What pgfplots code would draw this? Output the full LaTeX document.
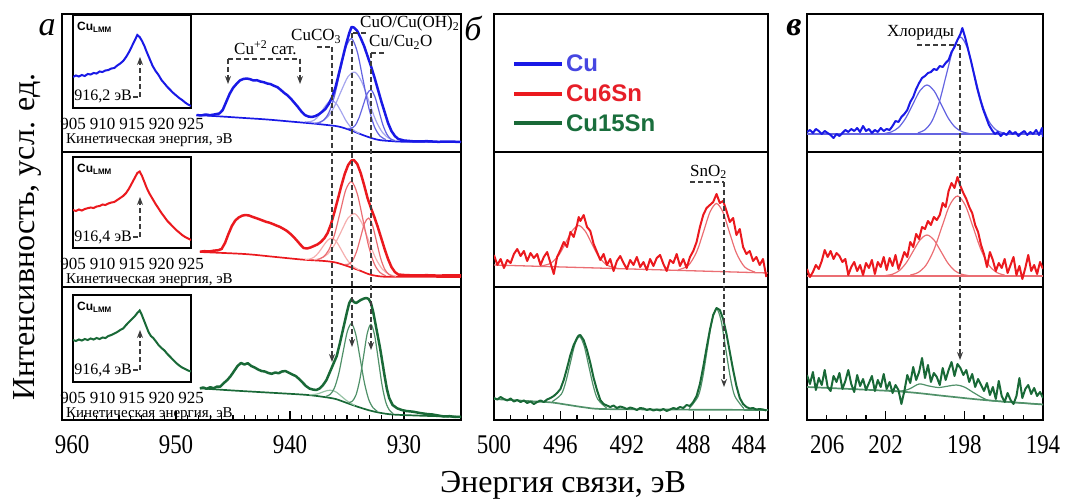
\documentclass[border=0pt]{standalone}
\usepackage{pgfplots}
\pgfplotsset{compat=1.18}
\usepackage{fontspec}
\setmainfont{Liberation Serif}
\newfontfamily\sansf{Liberation Sans}
\newfontfamily\tickf[FakeStretch=0.85]{Liberation Serif}
\usetikzlibrary{arrows.meta}
\definecolor{bM}{RGB}{25,25,230}
\definecolor{bC1}{RGB}{100,100,225}
\definecolor{bC2}{RGB}{165,165,238}
\definecolor{rM}{RGB}{235,25,30}
\definecolor{rC1}{RGB}{235,110,115}
\definecolor{rC2}{RGB}{245,175,175}
\definecolor{gM}{RGB}{25,105,55}
\definecolor{gC1}{RGB}{80,145,105}
\definecolor{gC2}{RGB}{150,195,165}
\definecolor{ann}{RGB}{60,60,60}
\definecolor{legB}{RGB}{70,70,225}
\definecolor{legR}{RGB}{230,30,40}
\definecolor{legG}{RGB}{25,110,60}
\pgfplotsset{
  panel/.style={scale only axis, axis line style={line width=1.6pt, black}, xtick=\empty, ytick=\empty, ymin=0, x dir=reverse, anchor=north west},
  botticks/.style={tick align=inside, xtick pos=bottom, major tick length=9pt, minor tick length=5pt, tick style={line width=1.1pt, black}, xticklabel style={font=\tickf\fontsize{27}{27}\selectfont, yshift=-12pt}},
  inset/.style={scale only axis, anchor=north west, width=118pt, xmin=905, xmax=925, ymin=0, axis line style={line width=1.2pt, black}, ytick=\empty, xtick={905,910,915,920,925}, xticklabels={905,910,915,920,925}, xtick pos=bottom, major tick length=0pt, xticklabel style={font=\fontsize{17}{17}\selectfont, yshift=-7pt}, axis background/.style={fill=white}},
  mainl/.style={line width=2.5pt, line join=round},
  bgl/.style={line width=1.7pt, smooth},
  compl/.style={line width=1.2pt, smooth},
  noisy/.style={line width=2pt, line join=round},
}
\tikzset{dsh/.style={ann, line width=1.2pt, dash pattern=on 5pt off 3pt}, arr/.style={-{Stealth[length=8pt,width=6pt]}}}
\begin{document}
\begin{tikzpicture}[x=1pt,y=1pt]
\path[use as bounding box] (0,0) rectangle (1068,-500);
% ================= PANEL A =================
% --- top row (Cu)
\begin{axis}[panel, at={(62pt,-14pt)}, width=399pt, height=138pt, xmin=925, xmax=960, ymax=138]
\addplot[bgl, bM] coordinates {(948.2,37) (946,35.5) (944,34) (942,32.5) (940,30.5) (938,28.5) (937,27.3) (936,26) (935.5,24.8) (935,23) (934.5,21) (934,18.7) (933.5,16.5) (933,14.5) (932.5,12.8) (932,11.7) (931,10.8) (930,10.3) (925,10)};
\addplot[compl, bC2] coordinates {(937.9,29) (937.3,30.2) (936.7,35) (936.1,45.6) (935.5,61.2) (934.9,75.5) (934.3,79.8) (933.7,70) (933.1,51.3) (932.5,32.3) (931.9,19.7) (931.3,13.6) (930.7,11.3)};
\addplot[compl, bC2] coordinates {(938.7,30.2) (938.3,30.2) (937.9,31.7) (937.5,35.9) (937.1,42.7) (936.7,48.9) (936.3,51.4) (935.9,47.8) (935.5,40.1) (935.1,31.5) (934.7,25.2) (934.3,20.9) (933.9,18.5)};
\addplot[compl, bC1] coordinates {(937.6,28.7) (937.1,31.4) (936.6,39.1) (936.1,56.0) (935.6,80.8) (935.1,104.5) (934.6,113.4) (934.1,100.3) (933.6,72.7) (933.1,44.8) (932.6,25.5) (932.1,15.9) (931.6,12.5)};
\addplot[compl, bC1] coordinates {(935.0,23.5) (934.65,23.7) (934.3,26.3) (933.95,34.1) (933.6,46.0) (933.25,57.8) (932.9,62.1) (932.55,55.3) (932.2,41.2) (931.85,27.1) (931.5,17.7) (931.15,12.9) (930.8,11.2)};
\addplot[mainl, bM] coordinates {(948.2,37) (947.8,36.5) (947.4,37.5) (947.0,36.8) (946.6,37.6) (946.2,38.5) (945.9,42) (945.6,50) (945.3,58) (945.0,64) (944.7,68) (944.4,71.5) (944.1,73) (943.8,73.5) (943.5,72.8) (943.2,71.5) (942.9,71.8) (942.6,70.5) (942.3,69.8) (942.0,68.5) (941.7,67.9) (941.4,66.2) (941.1,64.8) (940.8,62) (940.5,59) (940.2,56.5) (939.9,53) (939.6,49) (939.3,45) (939.0,40.5) (938.7,37) (938.4,35.5) (938.1,35) (937.8,35.8) (937.5,37.5) (937.2,40) (936.9,43) (936.6,48) (936.3,55) (936.0,65) (935.7,79) (935.4,93) (935.1,107) (934.8,119) (934.6,125) (934.4,124.5) (934.1,121) (933.8,114) (933.5,106) (933.2,96) (932.9,86) (932.6,75) (932.3,63) (932.0,51) (931.7,40) (931.4,29) (931.1,21) (930.8,16) (930.5,13) (930.0,11.5) (929.5,11) (929.0,10.5) (928.0,10.8) (927.0,10.2) (926.0,10.5) (925.0,10)};
\end{axis}
\begin{axis}[inset, at={(73pt,-15pt)}, height=93pt, ymax=93]
\addplot[line width=2pt, bM] coordinates {(905.0,31) (905.5,32.5) (906.0,31.5) (906.5,33) (907.0,32) (907.5,34) (908.0,33.5) (908.5,35) (909.0,34.5) (909.5,36.5) (910.0,36) (910.5,37.5) (911.0,38) (911.5,39.5) (912.0,40) (912.5,42.5) (913.0,44.5) (913.5,47) (914.0,51) (914.5,56) (915.0,62) (915.5,68) (915.9,73) (916.3,71) (916.7,67) (917.1,62) (917.5,56) (918.0,49) (918.5,42) (919.0,37) (919.5,33) (920.0,28) (920.5,24.5) (921.0,21) (921.5,18) (922.0,15) (922.5,12.5) (923.0,10) (923.5,8) (924.0,5.5) (924.5,3.5) (925.0,2)};
\end{axis}
% --- middle row (Cu6Sn)
\begin{axis}[panel, at={(62pt,-152pt)}, width=399pt, height=135pt, xmin=925, xmax=960, ymax=135]
\addplot[bgl, rM] coordinates {(947.9,35) (944,33) (941.5,30.3) (939,27.5) (937,26) (936,24.5) (935,21) (934,17) (933,12.5) (932,10.5) (931,10.3) (925,10)};
\addplot[compl, rC2] coordinates {(937.9,27.2) (937.3,28.7) (936.7,32.9) (936.1,42.1) (935.5,55.7) (934.9,69.1) (934.3,73.2) (933.7,64.1) (933.1,46.3) (932.5,29.1) (931.9,17.9) (931.3,12.7) (930.7,10.8)};
\addplot[compl, rC2] coordinates {(938.7,27.5) (938.3,27.9) (937.9,29.8) (937.5,34.2) (937.1,40.7) (936.7,46.7) (936.3,48.9) (935.9,44.9) (935.5,37.2) (935.1,29.2) (934.7,23.0) (934.3,19.3) (933.9,16.9)};
\addplot[compl, rC1] coordinates {(937.6,27.3) (937.1,29.9) (936.6,36.9) (936.1,52.2) (935.6,74.8) (935.1,97.3) (934.6,105.4) (934.1,93.3) (933.6,67.4) (933.1,40.9) (932.6,23) (932.1,14.4) (931.6,11.3)};
\addplot[compl, rC1] coordinates {(935.2,22.4) (934.85,22.9) (934.5,26.6) (934.15,35.8) (933.8,50) (933.45,63.9) (933.1,68.9) (932.75,61.2) (932.4,45.1) (932.05,28.8) (931.7,18) (931.35,12.8) (931.0,10.9)};
\addplot[mainl, rM] coordinates {(947.9,35.3) (947.5,35.8) (947.1,35.5) (946.7,36.3) (946.3,36.8) (946.0,38) (945.7,44) (945.4,53) (945.1,61) (944.8,66.5) (944.5,69.5) (944.2,71.3) (943.9,72) (943.6,71.5) (943.3,70.2) (943.0,69) (942.7,67.8) (942.4,66.5) (942.1,65.2) (941.8,64.3) (941.5,63) (941.2,61.5) (940.9,60.2) (940.6,58.3) (940.3,56.3) (940.0,53.5) (939.7,50.3) (939.4,46.5) (939.1,42.5) (938.8,39) (938.5,38.5) (938.2,39.5) (937.9,41) (937.6,42.5) (937.3,45) (937.0,48.5) (936.7,54) (936.4,63) (936.1,75) (935.8,88) (935.5,101) (935.2,113) (934.9,122) (934.6,126.5) (934.4,127) (934.1,123) (933.8,114) (933.5,102) (933.2,89) (932.9,79) (932.6,70) (932.3,60) (932.0,49) (931.7,38) (931.4,28) (931.1,20) (930.8,15) (930.5,12.5) (930.0,12) (929.0,11.5) (928.0,11.8) (927.0,11.4) (926.0,11.7) (925.0,11.5)};
\end{axis}
\begin{axis}[inset, at={(73pt,-157pt)}, height=91pt, ymax=91]
\addplot[line width=2pt, rM] coordinates {(905.0,38) (905.5,37) (906.0,38.5) (906.5,37.5) (907.0,39) (907.5,39.8) (908.0,40.5) (908.5,40) (909.0,41.5) (909.5,42) (910.0,43.5) (910.5,43) (911.0,44.5) (911.5,45.5) (912.0,46) (912.5,48) (913.0,50) (913.5,52) (914.0,55) (914.5,59.5) (915.0,65) (915.5,70.5) (915.9,75) (916.3,76.5) (916.7,72) (917.1,66) (917.5,60) (918.0,54) (918.5,49) (919.0,44) (919.5,39.5) (920.0,35) (920.5,31) (921.0,27) (921.5,24) (922.0,21) (922.5,18) (923.0,15.5) (923.5,13) (924.0,11) (924.5,9.5) (925.0,8)};
\end{axis}
% --- bottom row (Cu15Sn)
\begin{axis}[panel, botticks, at={(62pt,-287pt)}, width=399pt, height=133pt, xmin=925, xmax=960, ymax=133, xtick={930,940,950,960}, xticklabels={930,940,950,\rlap{\hspace{-7pt}960}}, minor x tick num=9]
\addplot[bgl, gM] coordinates {(947.9,31.7) (945,29.5) (942,27.5) (939,25.5) (938,24.5) (937,23) (936,21) (935,17) (934,13) (933,9.5) (932,7) (931,5.5) (929,4.5) (927,3.8) (925,3.3)};
\addplot[compl, gC2] coordinates {(938.3,25.2) (937.9,25.5) (937.5,26.4) (937.1,28.1) (936.7,29.5) (936.3,29.6) (935.9,27.6) (935.5,23.8) (935.1,20) (934.7,16.9) (934.3,14.6)};
\addplot[compl, gC1] coordinates {(936.85,23.6) (936.475,25.6) (936.1,32.1) (935.725,46.3) (935.35,67.6) (934.975,88.3) (934.6,96.4) (934.225,85.3) (933.85,61.6) (933.475,37.4) (933.1,20.7) (932.725,12.4) (932.35,8.8)};
\addplot[compl, gC1] coordinates {(934.85,17.3) (934.525,18.9) (934.2,25.4) (933.875,40.5) (933.55,63.5) (933.225,86.5) (932.9,95.6) (932.575,84.6) (932.25,60.1) (931.925,34.9) (931.6,17.9) (931.275,9.7) (930.95,6.4)};
\addplot[mainl, gM] coordinates {(947.9,31.7) (947.6,32.5) (947.3,31.2) (947.0,32.8) (946.7,31.8) (946.4,33.4) (946.1,33.5) (945.8,37) (945.5,40) (945.2,44) (944.9,49) (944.6,54) (944.3,57) (944.0,55.5) (943.7,56.8) (943.4,54) (943.1,52.5) (942.8,50.5) (942.5,49) (942.2,48.5) (941.9,47) (941.6,46.2) (941.3,47.5) (941.0,46.8) (940.7,48.5) (940.4,49) (940.1,47.3) (939.8,45.5) (939.5,44) (939.2,41) (938.9,37.5) (938.6,34) (938.3,31.5) (938.0,30.5) (937.7,30) (937.4,31.5) (937.1,35) (936.8,40) (936.5,48) (936.2,56) (935.9,64) (935.6,78) (935.3,93) (935.0,108) (934.8,117) (934.6,121) (934.4,118) (934.2,117) (934.0,118.5) (933.8,120) (933.5,121.5) (933.3,122) (933.1,121) (932.9,117) (932.7,108) (932.5,96) (932.3,84) (932.1,72) (931.9,58) (931.7,44) (931.5,31) (931.3,22) (931.0,15) (930.6,11.7) (930.2,10) (929.8,9) (929.2,8.3) (928.6,7) (928.0,6) (927.5,5.5) (927.0,4.5) (926.5,3.5) (926.0,3.8) (925.5,3) (925.0,3.2)};
\end{axis}
\begin{axis}[inset, at={(73pt,-295pt)}, height=87pt, ymax=87]
\addplot[line width=2pt, gM] coordinates {(905.0,42) (905.5,41) (906.0,42.5) (906.5,41.5) (907.0,43) (907.5,42) (908.0,43.5) (908.5,42.5) (909.0,44) (909.5,43) (910.0,44.5) (910.5,44) (911.0,46) (911.5,47) (912.0,48.5) (912.5,50) (913.0,52) (913.5,53.5) (914.0,57) (914.5,60) (915.0,63) (915.5,66) (915.9,69) (916.3,71.5) (916.6,68) (917.0,62) (917.4,56) (917.8,50) (918.2,46) (918.6,44) (919.0,41) (919.5,37) (920.0,34) (920.5,31.5) (921.0,28) (921.5,25) (922.0,22) (922.5,19) (923.0,16.5) (923.5,14.5) (924.0,13) (924.5,11.5) (925.0,10.5)};
\end{axis}
% ================= PANEL B =================
\begin{axis}[panel, at={(494pt,-14pt)}, width=274pt, height=138pt, xmin=483.5, xmax=500, ymax=138,
  legend style={draw=none, fill=none, at={(0.065,0.72)}, anchor=north west, font=\sansf\bfseries\fontsize{24}{24}\selectfont, row sep=7.5pt, inner sep=0pt},
  legend cell align=left,
  legend image code/.code={\draw[#1] (0pt,0pt) -- (48pt,0pt);}]
\addlegendimage{line width=4pt, bM}
\addlegendentry{\textcolor{legB}{Cu}}
\addlegendimage{line width=4pt, rM}
\addlegendentry{\textcolor{legR}{Cu6Sn}}
\addlegendimage{line width=4pt, gM}
\addlegendentry{\textcolor{legG}{Cu15Sn}}
\end{axis}
\begin{axis}[panel, at={(494pt,-152pt)}, width=274pt, height=135pt, xmin=483.5, xmax=500, ymax=135]
\addplot[line width=1.3pt, rC1] coordinates {(500,22) (483.5,14)};
\addplot[compl, rC1] coordinates {(497.2,21) (496.6,23.6) (496.1,31.8) (495.7,43.7) (495.3,56.1) (494.9,61.5) (494.5,55.7) (494.1,42.9) (493.7,30.6) (493.2,21.9) (492.6,18.8)};
\addplot[compl, rC1] coordinates {(488.9,17.2) (488.3,21.5) (487.8,35) (487.4,54.4) (487.0,74.7) (486.6,83.5) (486.2,74.3) (485.8,53.6) (485.4,33.8) (484.9,19.9) (484.3,15)};
\addplot[noisy, rM] coordinates {(500.0,32) (499.8,22) (499.6,28) (499.4,19) (499.2,27) (499.0,24) (498.8,33) (498.6,38) (498.4,31) (498.2,36) (498.0,26) (497.8,34) (497.6,29) (497.4,33) (497.2,22) (497.0,30) (496.8,35) (496.6,24) (496.4,13) (496.2,30) (496.0,37) (495.8,45) (495.6,40) (495.4,55) (495.2,50) (495.0,62) (494.9,70) (494.8,66) (494.6,72) (494.4,60) (494.2,56) (494.0,43) (493.8,35) (493.6,27) (493.4,33) (493.2,22) (493.0,28) (492.8,16) (492.6,26) (492.4,31) (492.2,24) (492.0,18) (491.8,27) (491.6,22) (491.4,30) (491.2,20) (491.0,25) (490.8,17) (490.6,28) (490.4,21) (490.2,29) (490.0,32) (489.8,23) (489.6,16) (489.4,27) (489.2,24) (489.0,33) (488.8,21) (488.6,28) (488.4,19) (488.2,30) (488.0,36) (487.8,45) (487.6,60) (487.4,72) (487.2,79) (487.0,82) (486.8,85) (486.6,93) (486.4,84) (486.2,86) (486.0,76) (485.8,65) (485.6,69) (485.4,52) (485.2,58) (485.0,40) (484.8,33) (484.6,36) (484.4,26) (484.2,30) (484.0,22) (483.8,28) (483.6,10)};
\end{axis}
\begin{axis}[panel, botticks, at={(494pt,-287pt)}, width=274pt, height=133pt, xmin=483.5, xmax=500, ymax=133, xtick={484,488,492,496,500}, xticklabels={\rlap{\hspace{-28pt}484},488,492,496,500}, minor x tick num=3]
\addplot[bgl, gC1] coordinates {(500,21) (497.5,18.5) (496.5,17.5) (495.5,15) (494.5,12.5) (493.5,11) (490,10.5) (483.5,10)};
\addplot[compl, gC1] coordinates {(496.5,18.3) (495.95,25.7) (495.675,38.3) (495.4,57.3) (495.125,75.9) (494.85,83.4) (494.575,74.4) (494.3,54.5) (494.025,34.3) (493.75,20.7) (493.2,11.7)};
\addplot[compl, gC1] coordinates {(488.25,11.4) (487.7,24) (487.425,43.1) (487.15,71.6) (486.875,99.4) (486.6,111.3) (486.325,99.4) (486.05,71.6) (485.775,43.1) (485.5,24) (484.95,11.4)};
\addplot[noisy, gM] coordinates {(500.0,22) (499.8,20.5) (499.6,23) (499.4,21) (499.2,19.5) (499.0,21.5) (498.8,18.5) (498.6,20) (498.4,18) (498.2,19.5) (498.0,17) (497.8,18.5) (497.6,16) (497.4,18) (497.2,19.5) (497.0,18) (496.8,20.5) (496.6,22) (496.4,24) (496.2,27) (496.0,31) (495.8,40) (495.6,52) (495.4,65) (495.2,75) (495.0,82) (494.9,84.5) (494.8,85) (494.6,80) (494.4,70) (494.2,57) (494.0,42) (493.8,30) (493.6,20) (493.4,16) (493.2,14.5) (493.0,13) (492.8,14.5) (492.6,12) (492.4,13.5) (492.2,12.5) (492.0,11) (491.8,12.5) (491.6,11.5) (491.4,10) (491.2,12) (491.0,11.5) (490.8,10) (490.6,11) (490.4,9.5) (490.2,10.5) (490.0,9.5) (489.8,11) (489.6,9) (489.4,10.5) (489.2,12) (489.0,11) (488.8,13) (488.6,12) (488.4,15) (488.2,14) (488.0,18) (487.8,24) (487.6,36) (487.4,53) (487.2,72) (487.0,90) (486.8,105) (486.6,112) (486.4,110) (486.2,101) (486.0,86) (485.8,68) (485.6,50) (485.4,34) (485.2,22) (485.0,16) (484.8,13) (484.6,11.5) (484.4,12) (484.2,10.5) (484.0,11) (483.8,10.5) (483.6,9.5)};
\end{axis}
% ================= PANEL C =================
\begin{axis}[panel, at={(807pt,-14pt)}, width=236pt, height=138pt, xmin=194, xmax=206, ymax=138]
\addplot[line width=1.3pt, bC1] coordinates {(206,18) (194,18)};
\addplot[compl, bC1] coordinates {(202.06,18.5) (201.7,20.2) (201.34,24.6) (200.98,33.9) (200.62,47.7) (200.26,61.2) (199.9,67) (199.54,61.2) (199.18,47.7) (198.82,33.9) (198.46,24.6) (198.1,20.2) (197.74,18.5)};
\addplot[compl, bC1] coordinates {(200.36,19.1) (200.0,22.3) (199.64,31.1) (199.28,49.5) (198.92,76.9) (198.56,103.6) (198.2,115) (197.84,103.6) (197.48,76.9) (197.12,49.5) (196.76,31.1) (196.4,22.3) (196.04,19.1)};
\addplot[noisy, bM] coordinates {(206.00,20) (205.85,22) (205.70,19) (205.55,23) (205.40,21) (205.25,18) (205.10,21) (204.95,19) (204.80,17) (204.65,14) (204.50,18) (204.35,16) (204.20,19) (204.05,22) (203.90,20) (203.75,23) (203.60,21) (203.45,24) (203.30,20) (203.15,26) (203.00,21) (202.85,23) (202.70,19) (202.55,22) (202.40,20) (202.25,24) (202.10,21) (201.95,23) (201.80,22) (201.65,26) (201.50,31) (201.35,30) (201.20,35) (201.05,38) (200.90,42) (200.75,50) (200.60,55) (200.45,63) (200.30,69) (200.15,74) (200.00,76) (199.85,79) (199.70,80) (199.55,83) (199.40,82) (199.25,86) (199.10,85) (198.95,89) (198.80,92) (198.65,100) (198.50,105) (198.35,112) (198.20,118) (198.10,124) (197.95,114) (197.80,102) (197.65,90) (197.50,77) (197.35,64) (197.20,53) (197.05,43) (196.90,35) (196.75,27) (196.60,22) (196.45,18) (196.30,20) (196.15,16) (196.00,19) (195.85,17) (195.70,21) (195.55,18) (195.40,20) (195.25,16) (195.10,19) (194.95,21) (194.80,17) (194.65,20) (194.50,18) (194.35,22) (194.20,17) (194.05,24) (194.00,15)};
\end{axis}
\begin{axis}[panel, at={(807pt,-152pt)}, width=236pt, height=135pt, xmin=194, xmax=206, ymax=135]
\addplot[line width=1.3pt, rC1] coordinates {(206,11) (194,11)};
\addplot[compl, rC1] coordinates {(202.0,11.5) (201.65,12.8) (201.3,16.5) (200.95,24.3) (200.6,35.9) (200.25,47.2) (199.9,52) (199.55,47.2) (199.2,35.9) (198.85,24.3) (198.5,16.5) (198.15,12.8) (197.8,11.5)};
\addplot[compl, rC1] coordinates {(200.75,11.9) (200.35,14.5) (199.95,21.8) (199.55,37) (199.15,59.6) (198.75,81.6) (198.35,91) (197.95,81.6) (197.55,59.6) (197.15,37) (196.75,21.8) (196.35,14.5) (195.95,11.9)};
\addplot[noisy, rM] coordinates {(206.00,18) (205.85,10) (205.70,15) (205.55,22) (205.40,18) (205.25,26) (205.10,37) (204.95,30) (204.80,36) (204.65,28) (204.50,34) (204.35,31) (204.20,25) (204.05,28) (203.90,12) (203.75,20) (203.60,25) (203.45,16) (203.30,22) (203.15,12) (203.00,24) (202.85,19) (202.70,27) (202.55,13) (202.40,25) (202.25,20) (202.10,30) (201.95,17) (201.80,29) (201.65,21) (201.50,32) (201.35,18) (201.20,26) (201.05,35) (200.90,30) (200.75,45) (200.60,40) (200.45,53) (200.30,48) (200.15,60) (200.00,58) (199.85,66) (199.70,62) (199.55,70) (199.40,67) (199.25,72) (199.10,84) (198.95,80) (198.80,96) (198.65,104) (198.50,99) (198.35,110) (198.20,101) (198.05,94) (197.90,88) (197.75,80) (197.60,74) (197.45,62) (197.30,55) (197.15,42) (197.00,33) (196.85,20) (196.70,35) (196.55,27) (196.40,16) (196.25,24) (196.10,19) (195.95,28) (195.80,14) (195.65,22) (195.50,30) (195.35,12) (195.20,21) (195.05,8) (194.90,19) (194.75,32) (194.60,16) (194.45,22) (194.30,13) (194.15,25) (194.00,18)};
\end{axis}
\begin{axis}[panel, botticks, at={(807pt,-287pt)}, width=236pt, height=133pt, xmin=194, xmax=206, ymax=133, xtick={194,198,202,206}, xticklabels={194,198,202,\rlap{\hspace{3pt}206}}, minor x tick num=3]
\addplot[bgl, gC1] coordinates {(206,33) (201.3,28.5) (199,24) (197,20) (194,15.5)};
\addplot[compl, gC1] coordinates {(202,30) (201.3,28.8) (200.8,31) (200.3,36) (199.8,34) (199.3,32.5) (198.8,34) (198.4,35) (198,33) (197.5,27) (197,21.5) (196.5,19) (194,15.5)};
\addplot[noisy, gM] coordinates {(206.00,45) (205.85,36) (205.70,48) (205.55,30) (205.40,42) (205.25,35) (205.10,50) (204.95,33) (204.80,29) (204.65,44) (204.50,38) (204.35,47) (204.20,31) (204.05,39) (203.90,50) (203.75,36) (203.60,28) (203.45,45) (203.30,34) (203.15,41) (203.00,30) (202.85,37) (202.70,44) (202.55,29) (202.40,40) (202.25,33) (202.10,46) (201.95,31) (201.80,38) (201.65,27) (201.50,35) (201.35,30) (201.20,16) (201.05,29) (200.90,45) (200.75,37) (200.60,53) (200.45,40) (200.30,48) (200.15,62) (200.00,42) (199.85,55) (199.70,38) (199.55,47) (199.40,43) (199.25,35) (199.10,52) (198.95,40) (198.80,50) (198.65,58) (198.50,44) (198.35,56) (198.20,52) (198.05,45) (197.90,50) (197.75,38) (197.60,46) (197.45,33) (197.30,41) (197.15,35) (197.00,29) (196.85,37) (196.70,25) (196.55,33) (196.40,21) (196.25,39) (196.10,24) (195.95,18) (195.80,27) (195.65,20) (195.50,16) (195.35,24) (195.20,42) (195.05,22) (194.90,31) (194.75,35) (194.60,26) (194.45,32) (194.30,24) (194.15,28) (194.00,22)};
\end{axis}
% ================= ANNOTATIONS =================
% panel a
\draw[dsh] (317,-47) -- (332,-47);
\draw[dsh, arr] (332,-47) -- (332,-362);
\draw[dsh] (366,-33) -- (352,-33);
\draw[dsh, arr] (352,-33) -- (352,-347);
\draw[dsh] (384,-53) -- (371,-53);
\draw[dsh, arr] (371,-53) -- (371,-350);
\node[anchor=base west, font=\fontsize{17}{17}\selectfont, inner sep=0pt] at (291,-41) {CuCO\textsubscript{3}};
\node[anchor=base west, font=\fontsize{17}{17}\selectfont, inner sep=0pt] at (360,-28) {CuO/Cu(OH)\textsubscript{2}};
\node[anchor=base west, font=\fontsize{17}{17}\selectfont, inner sep=0pt] at (369,-47) {Cu/Cu\textsubscript{2}O};
\node[anchor=base west, font=\fontsize{17}{17}\selectfont, inner sep=0pt] at (234,-55) {Cu\textsuperscript{+2} сат.};
\draw[dsh] (228,-59) -- (300,-59);
\draw[dsh, arr] (228,-59) -- (228,-84);
\draw[dsh, arr] (300,-59) -- (300,-84);
% insets annotations
\foreach \yt/\yb/\tx/\ylab in {15/108/916{,}2/97, 157/248/916{,}4/237, 295/382/916{,}4/370}{
  \draw[dsh, arr] (140,-\ylab) -- (140,-\ylab+40);
  \draw[dsh] (133,-\ylab) -- (140,-\ylab);
  \node[anchor=base east, font=\fontsize{16}{16}\selectfont, inner sep=0pt] at (132,-\ylab-4) {\tx\ эВ};
  \node[anchor=north west, font=\sansf\bfseries\fontsize{12}{12}\selectfont, inner sep=0pt] at (77,-\yt-7) {Cu\textsubscript{LMM}};
  \node[anchor=west, font=\fontsize{15}{15}\selectfont, inner sep=0pt] at (66,-\yb-32) {Кинетическая энергия, эВ};
}
% panel b
\node[anchor=base west, font=\fontsize{17}{17}\selectfont, inner sep=0pt] at (690,-176) {SnO\textsubscript{2}};
\draw[dsh] (690,-182) -- (724,-182);
\draw[dsh, arr] (724,-182) -- (724,-387);
% panel c
\node[anchor=base west, font=\fontsize{17}{17}\selectfont, inner sep=0pt] at (887,-37) {Хлориды};
\draw[dsh] (917,-45) -- (960,-45);
\draw[dsh, arr] (960,-45) -- (960,-360);
% panel letters
\node[font=\itshape\fontsize{34}{34}\selectfont] at (47,-28) {а};
\node[font=\itshape\fontsize{34}{34}\selectfont] at (473,-28) {б};
\node[font=\bfseries\itshape\fontsize{34}{34}\selectfont] at (794,-28) {в};
% axis titles
\node[rotate=90, font=\fontsize{32}{32}\selectfont] at (27,-237) {Интенсивность, усл. ед.};
\node[font=\fontsize{32}{32}\selectfont] at (563,-485) {Энергия связи, эВ};
\end{tikzpicture}
\end{document}
